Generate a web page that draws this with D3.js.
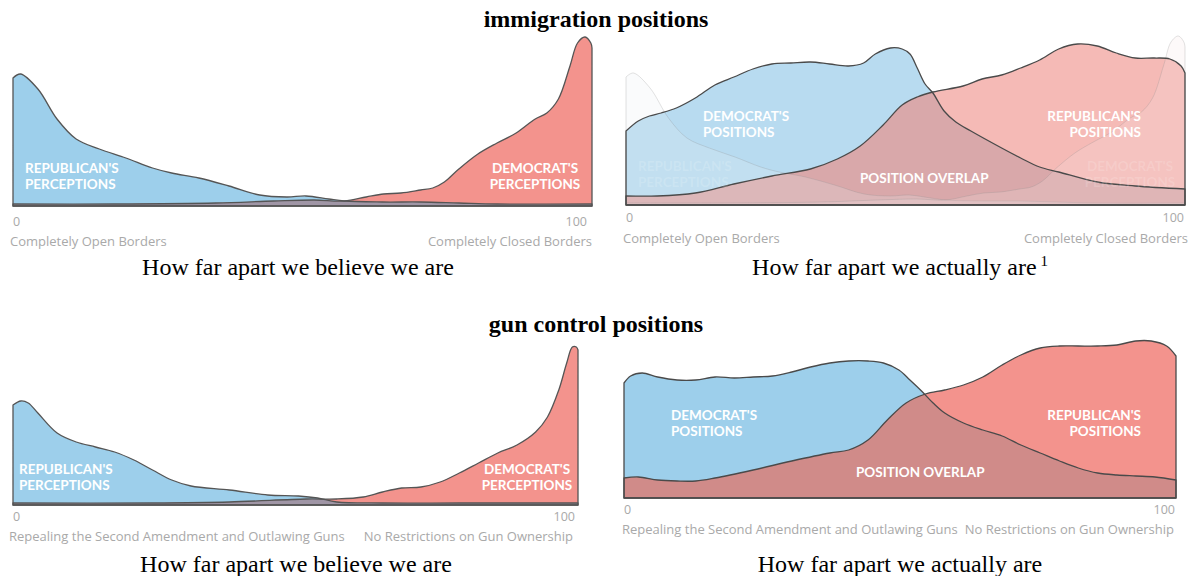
<!DOCTYPE html>
<html><head><meta charset="utf-8">
<script src="https://cdn.jsdelivr.net/npm/d3@7"></script>
<style>
body{margin:0;background:#fff}
svg{display:block}
.lab{font-family:Lato,"Open Sans",sans-serif;font-weight:700;fill:#fff}
.ax{font-family:"Open Sans",Lato,sans-serif;fill:#a9a9a9}
.ser{font-family:"Liberation Serif","Times New Roman",serif;fill:#000}
</style>
</head><body>
<svg id="c" width="1201" height="576"></svg>
<script>
// ---------- data ----------
const titles = ["immigration positions", "gun control positions"];
const captions = ["How far apart we believe we are", "How far apart we actually are"];
const footnote = "1";
const tickLabels = ["0", "100"];
const immAxisLabels = ["Completely Open Borders", "Completely Closed Borders"];
const gunAxisLabels = ["Repealing the Second Amendment and Outlawing Guns", "No Restrictions on Gun Ownership"];

// Immigration – perceptions (blue: Republican's perceptions, red: Democrat's perceptions)
const immPercRepX = [0,1.3,4.3,7.6,10.9,14.9,19.5,24.1,27.4,32.1,37.3,42.6,47.3,50.6,54.5,57.2,63.8,70.4,77,83.6,100];
const immPercRepY = [128,132,117,87,67,57,48,38,33,28,20,11,9,10,7,5,4,4,3,2,2];
const immPercDemX = [0,17.5,35,45,52,57.2,61,64,67,70.4,72.5,74.5,77,80.3,83.6,86.9,90.2,92.2,94.2,96.2,97.5,98.8,99.8,100];
const immPercDemY = [2,2,3,5,6,5,9,12,13,16,18,24,37,52,63,73,87,93,107,140,163,169,163,158];

// Immigration – actual positions (blue: Democrat's, red: Republican's)
const immPosDemX = [0,2.2,4.2,6.3,9,12.4,15.9,19.3,22.7,26.1,29.5,33,36.4,39.8,42.5,44.6,47.3,49.4,50.8,52.1,53.5,54.9,56.9,59,61.7,67.2,70.6,74,77.4,84.3,91.1,100];
const immPosDemY = [74,84,89,92,97,107,120,128,136,141,142,143,141,139,142,151,157,156,151,137,121,112,94,83,74,57,47,38,33,23,19,16];
const immPosRepX = [0,5.6,12.4,19.3,26.1,33,37.8,41.9,46,49.4,52.1,54.9,60.3,63.7,67.2,70.6,74,77.4,80.8,84.3,87.7,91.1,94.5,97.3,99.3,100];
const immPosRepY = [9,9,12,21,29,36,46,59,80,100,108,113,119,126,130,137,145,156,161,159,152,147,147,146,139,132];

// Gun control – perceptions
const gunPercRepX = [0,1.4,2.7,4.4,7.8,11.2,14.6,18,21.4,24.7,28.1,31.5,38.3,45.1,50.5,53.9,57.3,65.4,79,100];
const gunPercRepY = [100,104,102,92,72,63,58,53,45,35,25,19,15,10,9,7,3,2,2,2];
const gunPercDemX = [0,24.7,38.3,51.9,57.3,62,65.4,68.8,72.2,75.6,79,82.4,85.8,89.2,92.5,94.6,96.6,98,99,99.7,100];
const gunPercDemY = [2,2,3,6,6,8,13,17,18,23,32,42,52,60,73,88,115,142,158,158,155];

// Gun control – actual positions
const gunPosDemX = [0,1.2,3.3,6.1,9.6,13,16.5,20,23.4,26.9,30.4,33.8,37.3,40.7,44.2,47,49.8,51.8,53.9,56,58.1,61.5,65,68.5,71.9,75.4,78.9,82.3,85.8,89.3,92.7,96.2,100];
const gunPosDemY = [115,122,125,121,118,118,121,120,121,122,126,131,135,137,137,135,128,118,107,95,85,75,68,62,53,45,37,30,25,23,22,21,18];
const gunPosRepX = [0,2.6,6.1,9.6,13,16.5,23.4,30.4,37.3,40.7,44.2,47.7,51.1,54.6,58.1,61.5,65,68.5,71.9,75.4,78.9,82.3,85.8,89.3,92.7,95.5,98.3,100];
const gunPosRepY = [20,21,18,17,17,20,28,37,45,48,58,78,95,104,108,113,121,133,143,150,152,152,152,153,157,157,152,142];

const zip = (xs, ys) => xs.map((x, i) => [x, ys[i]]);

// ---------- drawing ----------
const svg = d3.select("#c");
let clipId = 0;

function drawPanel(p) {
  const g = svg.append("g");
  const x = d3.scaleLinear().domain([0, 100]).range([p.x0, p.x1]);
  const y = d3.scaleLinear().domain([0, 170]).range([p.base, p.base - 170]);
  const area = d3.area().x(d => x(d[0])).y0(y(0)).y1(d => Math.min(y(0), y(d[1])))
    .curve(d3.curveCatmullRom.alpha(0.5));
  const blue = zip(p.bx, p.by), red = zip(p.rx, p.ry);

  g.append("path").attr("d", area(blue)).attr("fill", p.cBlue);
  g.append("path").attr("d", area(red)).attr("fill", p.cRed);
  const id = "clip" + (clipId++);
  g.append("clipPath").attr("id", id).append("path").attr("d", area(blue));
  g.append("path").attr("d", area(red)).attr("fill", p.cOver).attr("clip-path", `url(#${id})`);

  if (p.ghost) {
    p.ghost.forEach(gh => {
      g.append("path").attr("d", area(zip(gh.x, gh.y)))
        .attr("fill", gh.fill).attr("fill-opacity", 0.22)
        .attr("stroke", "#8a8a8a").attr("stroke-opacity", 0.25).attr("stroke-width", 1);
    });
  }

  [blue, red].forEach(s => {
    g.append("path").attr("d", area(s)).attr("fill", "none")
      .attr("stroke", p.cLine).attr("stroke-width", 1.3).attr("stroke-linejoin", "round");
  });

  // in-chart labels
  p.labels.forEach(l => {
    const t = g.append("text").attr("class", "lab").attr("x", l.x).attr("y", l.y)
      .attr("text-anchor", l.anchor || "start").style("font-size", "13.5px")
      .attr("fill-opacity", l.op || 1);
    l.lines.forEach((s, i) => t.append("tspan").attr("x", l.x).attr("dy", i ? 16 : 0).text(s));
  });

  // tick labels
  g.append("text").attr("class", "ax").attr("x", x(0)).attr("y", p.tickY)
    .style("font-size", "12.5px").text(tickLabels[0]);
  g.append("text").attr("class", "ax").attr("x", p.t100).attr("y", p.tickY)
    .attr("text-anchor", "end").style("font-size", "12.5px").text(tickLabels[1]);
  // axis end labels
  g.append("text").attr("class", "ax").attr("x", p.al0).attr("y", p.labY)
    .style("font-size", "13px").text(p.axis[0]);
  g.append("text").attr("class", "ax").attr("x", p.al1).attr("y", p.labY)
    .attr("text-anchor", "end").style("font-size", "13px").text(p.axis[1]);

  // caption
  const c = svg.append("text").attr("class", "ser").attr("x", p.capX).attr("y", p.capY)
    .attr("text-anchor", "middle").style("font-size", "24px").text(p.caption);
  if (p.sup) c.append("tspan").attr("dy", -9).style("font-size", "15px").text(" " + p.sup);
}

const cBlueA = "#9dcfeb", cRedA = "#f3938d";

drawPanel({
  x0: 13, x1: 592, base: 206, bx: immPercRepX, by: immPercRepY, rx: immPercDemX, ry: immPercDemY,
  cBlue: cBlueA, cRed: cRedA, cOver: "#a096a6", cLine: "#555",
  labels: [{x: 25, y: 173, lines: ["REPUBLICAN'S", "PERCEPTIONS"]},
           {x: 535, y: 173, anchor: "middle", lines: ["DEMOCRAT'S", "PERCEPTIONS"]}],
  tickY: 226, t100: 587, labY: 246, al0: 10, al1: 592, axis: immAxisLabels,
  capX: 298, capY: 275, caption: captions[0]
});

drawPanel({
  x0: 626, x1: 1185, base: 205, bx: immPosDemX, by: immPosDemY, rx: immPosRepX, ry: immPosRepY,
  cBlue: "#b8dbf0", cRed: "#f5bab6", cOver: "#d9a8aa", cLine: "#4a4a4a",
  ghost: [{x: immPercRepX, y: immPercRepY, fill: "#e6ebf1"}, {x: immPercDemX, y: immPercDemY, fill: "#f6e2e2"}],
  labels: [{x: 638, y: 171, op: 0.16, lines: ["REPUBLICAN'S", "PERCEPTIONS"]},
           {x: 1130, y: 171, anchor: "middle", op: 0.16, lines: ["DEMOCRAT'S", "PERCEPTIONS"]},
           {x: 703, y: 121, lines: ["DEMOCRAT'S", "POSITIONS"]},
           {x: 1141, y: 121, anchor: "end", lines: ["REPUBLICAN'S", "POSITIONS"]},
           {x: 860, y: 183, lines: ["POSITION OVERLAP"]}],
  tickY: 222, t100: 1184, labY: 243, al0: 623, al1: 1188, axis: immAxisLabels,
  capX: 900, capY: 275, caption: captions[1], sup: footnote
});

drawPanel({
  x0: 13, x1: 578, base: 505, bx: gunPercRepX, by: gunPercRepY, rx: gunPercDemX, ry: gunPercDemY,
  cBlue: cBlueA, cRed: cRedA, cOver: "#a096a6", cLine: "#555",
  labels: [{x: 19, y: 474, lines: ["REPUBLICAN'S", "PERCEPTIONS"]},
           {x: 527, y: 474, anchor: "middle", lines: ["DEMOCRAT'S", "PERCEPTIONS"]}],
  tickY: 521, t100: 575, labY: 541, al0: 9, al1: 573, axis: gunAxisLabels,
  capX: 296, capY: 572, caption: captions[0]
});

drawPanel({
  x0: 624, x1: 1176, base: 498, bx: gunPosDemX, by: gunPosDemY, rx: gunPosRepX, ry: gunPosRepY,
  cBlue: cBlueA, cRed: cRedA, cOver: "#d08b89", cLine: "#4a4a4a",
  labels: [{x: 671, y: 420, lines: ["DEMOCRAT'S", "POSITIONS"]},
           {x: 1141, y: 420, anchor: "end", lines: ["REPUBLICAN'S", "POSITIONS"]},
           {x: 856, y: 477, lines: ["POSITION OVERLAP"]}],
  tickY: 514, t100: 1175, labY: 534, al0: 622, al1: 1174, axis: gunAxisLabels,
  capX: 900, capY: 572, caption: captions[1]
});

// section titles
svg.append("text").attr("class", "ser").attr("x", 596).attr("y", 27).attr("text-anchor", "middle")
  .style("font-size", "24px").style("font-weight", "bold").text(titles[0]);
svg.append("text").attr("class", "ser").attr("x", 596).attr("y", 332).attr("text-anchor", "middle")
  .style("font-size", "24px").style("font-weight", "bold").text(titles[1]);
</script>
</body></html>
